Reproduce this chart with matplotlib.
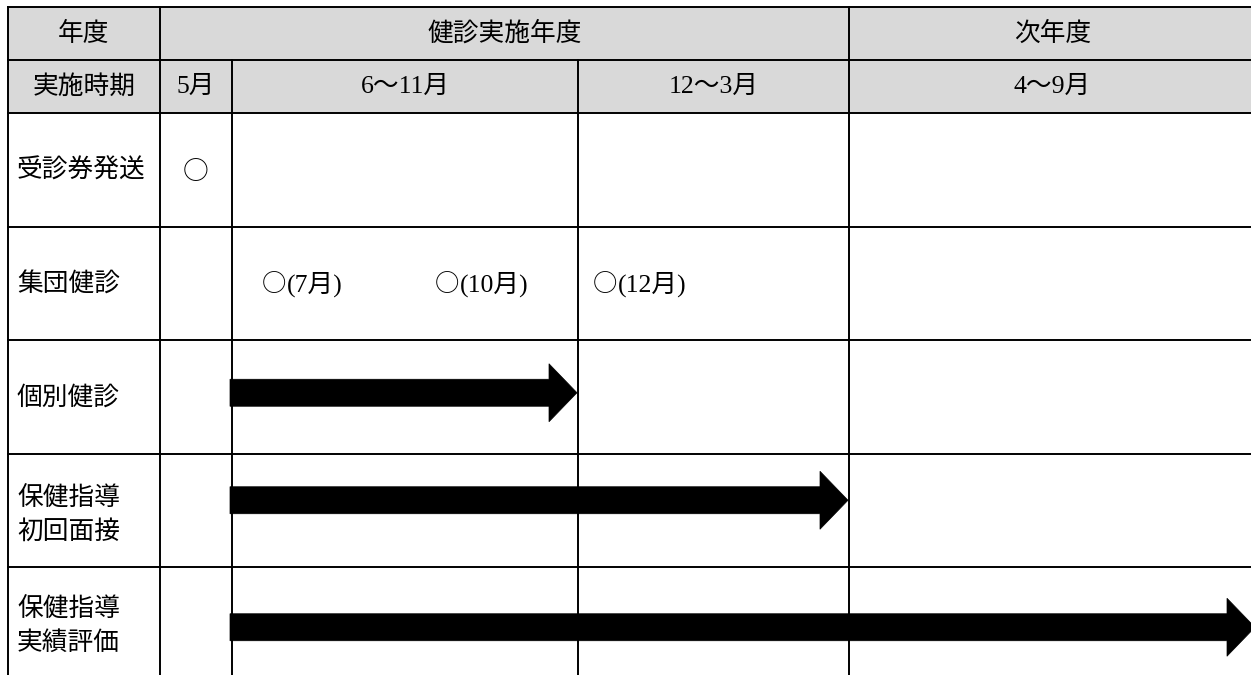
import matplotlib
matplotlib.use("Agg")
import matplotlib.pyplot as plt
from matplotlib.patches import Rectangle, Polygon

# ---------------- data ----------------
header_years = ["年度", "健診実施年度", "次年度"]
header_year_spans = [(0, 1), (1, 4), (4, 5)]
header_periods = ["実施時期", "5月", "6～11月", "12～3月", "4～9月"]
row_labels = ["受診券発送", "集団健診", "個別健診", "保健指導\n初回面接", "保健指導\n実績評価"]

# single marks: (row index, column index, text)
single_marks = [(0, 1, "○")]
# group check-up dates: (row, column, label)
group_events = [(1, 2, "○(7月)"), (1, 2, "○(10月)"), (1, 3, "○(12月)")]
# arrows: (row, start column edge, end column edge)
arrows = [(2, 2, 3), (3, 2, 4), (4, 2, 5)]

# ---------------- layout ----------------
W, H = 1251, 675
col_edges = [8, 160, 232, 578, 849, 1256]
row_edges = [7, 60, 113, 226.5, 340, 453.5, 567, 680.5]
group_offsets = [30, 203, 15]          # px from left edge of cell
arrow_dy = [-4, -10, 3.5]              # px offset from row centre
label_dy = [1, 1, 1, 5, 3]
shaft_h, head_h, head_len = 27, 58, 28
gray = "#d9d9d9"
lw = 1.4
fs = 18.5
serif = ["Liberation Serif", "Noto Sans CJK JP"]
cjk = ["Noto Sans CJK JP"]

fig = plt.figure(figsize=(W / 100, H / 100), dpi=100)
ax = fig.add_axes([0, 0, 1, 1])
ax.set_xlim(0, W)
ax.set_ylim(H, 0)
ax.axis("off")

# header background
ax.add_patch(Rectangle((col_edges[0], row_edges[0]), col_edges[-1] - col_edges[0],
                       row_edges[2] - row_edges[0], facecolor=gray, edgecolor="none", zorder=0))

# horizontal lines
for y in row_edges:
    ax.plot([col_edges[0], col_edges[-1]], [y, y], color="black", lw=lw, zorder=3,
            solid_capstyle="projecting")
# vertical lines
for i, x in enumerate(col_edges):
    if i in (0, 1, 4, 5):
        ax.plot([x, x], [row_edges[0], row_edges[-1]], color="black", lw=lw, zorder=3)
    else:
        ax.plot([x, x], [row_edges[1], row_edges[-1]], color="black", lw=lw, zorder=3)

def cx(c0, c1):
    return (col_edges[c0] + col_edges[c1]) / 2

def cy(r):
    return (row_edges[r] + row_edges[r + 1]) / 2

# header texts
for txt, (c0, c1) in zip(header_years, header_year_spans):
    x = cx(c0, min(c1, len(col_edges) - 1))
    ax.text(x, cy(0), txt, ha="center", va="center", fontsize=fs, family=serif, zorder=4)
for i, txt in enumerate(header_periods):
    ax.text(cx(i, i + 1), cy(1), txt, ha="center", va="center", fontsize=fs, family=serif, zorder=4)

# row labels
for i, txt in enumerate(row_labels):
    ax.text(17, cy(i + 2) + label_dy[i], txt, ha="left", va="center", fontsize=fs, family=cjk,
            linespacing=1.35, zorder=4)

# single marks
for r, c, txt in single_marks:
    ax.text(cx(c, c + 1), cy(r + 2) + 2, txt, ha="center", va="center", fontsize=fs, family=cjk, zorder=4)

# group check-up events
for (r, c, txt), off in zip(group_events, group_offsets):
    x0 = col_edges[c] + off
    y0 = cy(r + 2) + 1
    ax.text(x0, y0, txt[0], ha="left", va="center", fontsize=fs - 1, family=cjk, zorder=4)
    ax.text(x0 + 25, y0, txt[1:], ha="left", va="center", fontsize=fs, family=serif, zorder=4)

# arrows
for (r, s, e), dy in zip(arrows, arrow_dy):
    x0 = col_edges[s] - 2
    x1 = col_edges[e] - 1
    yc = cy(r + 2) + dy
    xb = x1 - head_len
    pts = [(x0, yc - shaft_h / 2), (xb, yc - shaft_h / 2), (xb, yc - head_h / 2),
           (x1, yc), (xb, yc + head_h / 2), (xb, yc + shaft_h / 2), (x0, yc + shaft_h / 2)]
    ax.add_patch(Polygon(pts, closed=True, facecolor="black", edgecolor="black", lw=0.5, zorder=5))

fig.savefig("out.png", dpi=100)
